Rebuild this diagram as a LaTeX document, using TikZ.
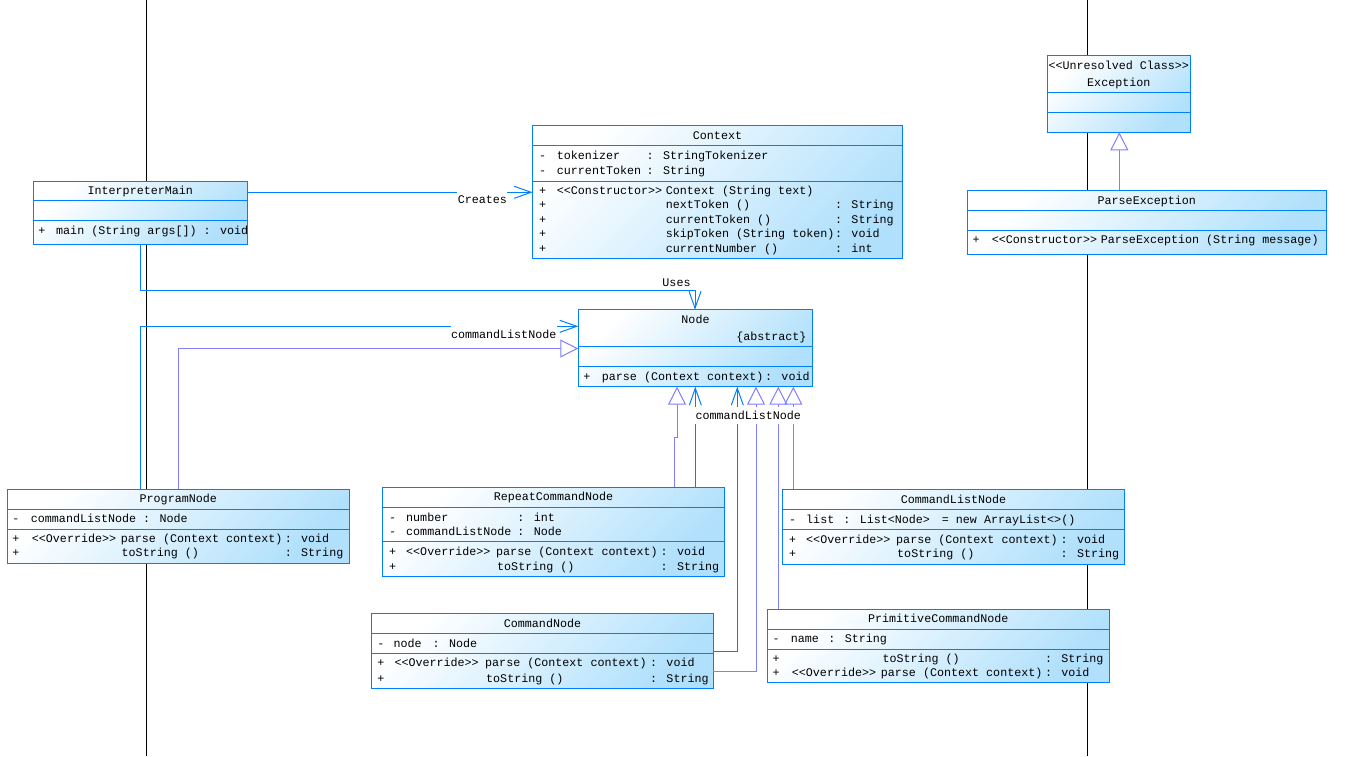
\documentclass[tikz,border=0pt]{standalone}
\usepackage{fontspec}
\newfontfamily\umono{Liberation Mono}
\usetikzlibrary{arrows.meta}
\definecolor{bblue}{RGB}{0,128,255}
\definecolor{gpurple}{RGB}{128,128,255}
\definecolor{fillb}{RGB}{176,224,252}
\newcounter{tn}
\newcommand\tx[4][mid west]{\stepcounter{tn}\node[tx,anchor=#1] (t\arabic{tn}) at (#2,#3) {#4};}
\newcommand\umlbox[7]{%
  \node[umlb, minimum width={#4pt-#2pt}, minimum height={#7pt-#3pt}] (#1) at ({(#2+#4)/2},{(#3+#7)/2}) {};
  \draw[boxline] (#1.west |- 0,#5) -- (#1.east |- 0,#5);
  \draw[boxline] (#1.west |- 0,#6) -- (#1.east |- 0,#6);}
\begin{document}
\begin{tikzpicture}[x=1pt,y=-1pt,
  tx/.style={font=\umono\fontsize{11.7}{13}\selectfont, inner sep=0pt, yshift=-1.5pt},
  umlb/.style={rectangle, draw=bblue, line width=1pt, top color=white, bottom color=fillb, shading angle=45, inner sep=0pt, outer sep=0pt},
  boxline/.style={draw=bblue, line width=1pt},
  assoc/.style={draw=bblue, line width=1pt, -{Straight Barb[length=17pt,width=12pt]}},
  gen/.style={draw=gpurple, line width=1pt, -{Triangle[open,length=18pt,width=18pt]}},
  lbl/.style={font=\umono\fontsize{11.7}{13}\selectfont, fill=white, inner xsep=0.5pt, inner ysep=0pt, minimum height=17pt},
  axisline/.style={draw=black, line width=1pt}]
\useasboundingbox (0,0) rectangle (1356,756);
% black vertical lines
\coordinate (la) at (146,0); \coordinate (lb) at (146,756);
\coordinate (lc) at (1087.7,0); \coordinate (ld) at (1087.7,756);
\draw[axisline] (la) -- (lb);
\draw[axisline] (lc) -- (ld);
% boxes
\umlbox{im}{33.3}{181.3}{247.3}{200.7}{220.7}{244}
\umlbox{ctx}{532.7}{125.3}{902.3}{145.3}{181}{258}
\umlbox{exc}{1047.3}{55.7}{1190.3}{92.3}{112.3}{132.3}
\umlbox{pe}{967.3}{190.3}{1326.3}{210.3}{230.3}{254}
\umlbox{nd}{578.3}{309.7}{812.7}{346.7}{366.7}{386.7}
\umlbox{pn}{7.3}{489}{349.3}{509}{529.3}{563.3}
\umlbox{rc}{382.7}{487.3}{724.3}{507.7}{541.7}{576.7}
\umlbox{cln}{782.7}{489.3}{1124.3}{509.3}{529.3}{564}
\umlbox{cn}{371.7}{613.7}{713.3}{633.7}{653.3}{688.3}
\umlbox{pcn}{767.3}{609.3}{1109.3}{629.3}{649.3}{682.7}
% InterpreterMain
\tx[mid]{140.3}{190.7}{InterpreterMain}
\tx[mid]{42}{231}{+}
\tx{56}{231}{main (String args[]) : void}
% Context
\tx[mid]{717.5}{135.7}{Context}
\tx[mid]{542.7}{155.7}{-}\tx{556.7}{155.7}{tokenizer}\tx{646.5}{155.7}{: StringTokenizer}
\tx[mid]{542.7}{170.7}{-}\tx{556.7}{170.7}{currentToken}\tx{646.5}{170.7}{: String}
\tx[mid]{542.7}{191}{+}\tx{556.7}{191}{<<Constructor>>}\tx{665.7}{191}{Context (String text)}
\tx[mid]{542.7}{205.3}{+}\tx{665.7}{205.3}{nextToken ()}\tx{834.9}{205.3}{: String}
\tx[mid]{542.7}{219.7}{+}\tx{665.7}{219.7}{currentToken ()}\tx{834.9}{219.7}{: String}
\tx[mid]{542.7}{234.3}{+}\tx{665.7}{234.3}{skipToken (String token)}\tx{834.9}{234.3}{: void}
\tx[mid]{542.7}{248.5}{+}\tx{665.7}{248.5}{currentNumber ()}\tx{834.9}{248.5}{: int}
% Exception
\tx[mid]{1118.8}{65.7}{<<Unresolved Class>>}
\tx[mid]{1118.8}{83}{Exception}
% ParseException
\tx[mid]{1146.8}{201}{ParseException}
\tx[mid]{976}{240}{+}\tx{991.7}{240}{<<Constructor>>}\tx{1100.7}{240}{ParseException (String message)}
% Node
\tx[mid]{695.5}{320}{Node}
\tx[mid east]{806.7}{336.7}{\{abstract\}}
\tx[mid]{587}{376.7}{+}\tx{601.7}{376.7}{parse (Context context)}\tx{764.9}{376.7}{: void}
% ProgramNode
\tx[mid]{178.3}{499}{ProgramNode}
\tx[mid]{16}{519.3}{-}\tx{30.7}{519.3}{commandListNode : Node}
\tx[mid]{16}{539}{+}\tx{31.7}{539}{<<Override>>}\tx{120.7}{539}{parse (Context context)}\tx{284.6}{539}{: void}
\tx[mid]{16}{552.7}{+}\tx{121.5}{552.7}{toString ()}\tx{284.6}{552.7}{: String}
% RepeatCommandNode
\tx[mid]{553.5}{497.3}{RepeatCommandNode}
\tx[mid]{392.7}{517.7}{-}\tx{406}{517.7}{number}\tx{517.2}{517.7}{: int}
\tx[mid]{392.7}{531.7}{-}\tx{406}{531.7}{commandListNode}\tx{517.2}{531.7}{: Node}
\tx[mid]{392.7}{551.7}{+}\tx{406}{551.7}{<<Override>>}\tx{496}{551.7}{parse (Context context)}\tx{660.5}{551.7}{: void}
\tx[mid]{392.7}{566.7}{+}\tx{497}{566.7}{toString ()}\tx{660.5}{566.7}{: String}
% CommandListNode
\tx[mid]{953.5}{500}{CommandListNode}
\tx[mid]{792.7}{520}{-}\tx{806}{520}{list}\tx{843.2}{520}{: List<Node>}\tx{941.7}{520}{= new ArrayList<>()}
\tx[mid]{792.7}{540}{+}\tx{806}{540}{<<Override>>}\tx{896}{540}{parse (Context context)}\tx{1060.5}{540}{: void}
\tx[mid]{792.7}{554.3}{+}\tx{897}{554.3}{toString ()}\tx{1060.5}{554.3}{: String}
% CommandNode
\tx[mid]{542.5}{624}{CommandNode}
\tx[mid]{381}{644}{-}\tx{393.3}{644}{node}\tx{432.5}{644}{: Node}
\tx[mid]{381}{663.3}{+}\tx{394.3}{663.3}{<<Override>>}\tx{485}{663.3}{parse (Context context)}\tx{649.9}{663.3}{: void}
\tx[mid]{381}{679}{+}\tx{486}{679}{toString ()}\tx{649.9}{679}{: String}
% PrimitiveCommandNode
\tx[mid]{938.3}{619}{PrimitiveCommandNode}
\tx[mid]{776}{639.3}{-}\tx{790.7}{639.3}{name}\tx{828.2}{639.3}{: String}
\tx[mid]{776}{659}{+}\tx{882.3}{659}{toString ()}\tx{1044.8}{659}{: String}
\tx[mid]{776}{673.3}{+}\tx{791.7}{673.3}{<<Override>>}\tx{880.7}{673.3}{parse (Context context)}\tx{1044.8}{673.3}{: void}
% connectors
\draw[assoc] (im.east |- 0,192.3) -- (ctx.west |- 0,192.3)
  node[lbl] (lcreates) at (482.4,199.7) {Creates};
\draw[assoc] (im.south -| 140.7,0) -- (140.7,290.3) -- (695,290.3) -- (nd.north -| 695,0);
\node[tx] (luses) at (676.5,281) {Uses};
\draw[assoc] (pn.north -| 140.7,0) -- (140.7,326.3) -- (nd.west |- 0,326.3)
  node[lbl] (lcln1) at (503.7,334) {commandListNode};
\draw[gen] (pn.north -| 178.5,0) -- (178.5,348.5) -- (nd.west |- 0,348.5);
\draw[gen] (pe.north -| 1119.3,0) -- (exc.south -| 1119.3,0);
\draw[gen] (rc.north -| 674.3,0) -- (674.3,437) -- (677,437) -- (nd.south -| 677,0);
\draw[assoc] (cn.east |- 0,651) -- (737.3,651) -- (nd.south -| 737.3,0);
\draw[gen] (cn.east |- 0,671.7) -- (756,671.7) -- (nd.south -| 756,0);
\draw[gen] (pcn.north -| 778.3,0) -- (nd.south -| 778.3,0);
\draw[gen] (cln.north -| 793.3,0) -- (nd.south -| 793.3,0);
\draw[assoc] (rc.north -| 695.3,0) -- (nd.south -| 695.3,0)
  node[lbl] (lcln2) at (748.3,415) {commandListNode};
\end{tikzpicture}
\end{document}
